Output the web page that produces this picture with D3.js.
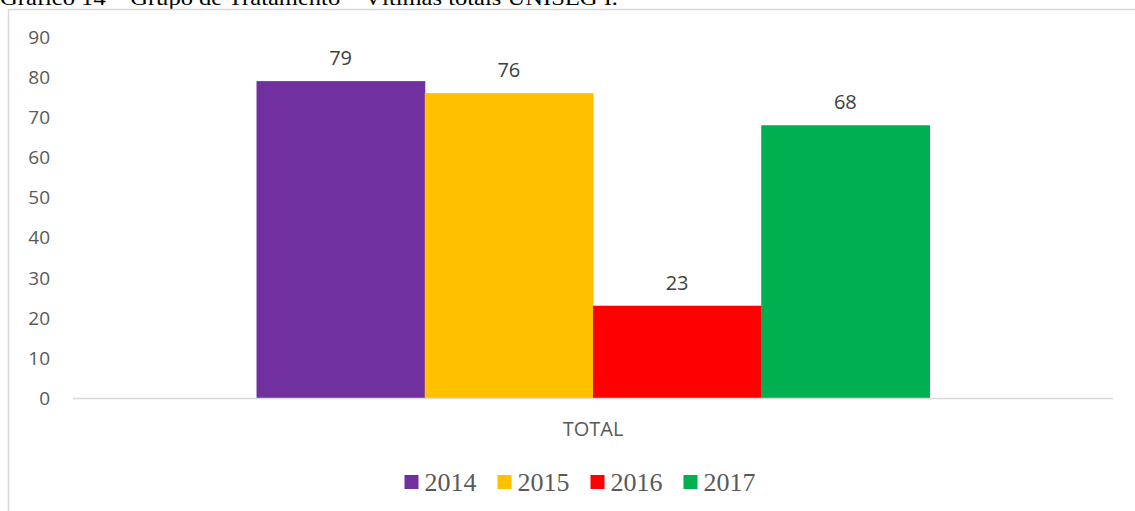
<!DOCTYPE html>
<html>
<head>
<meta charset="utf-8">
<script src="https://cdn.jsdelivr.net/npm/d3@7"></script>
<style>
  body { margin: 0; background: #fff; }
  svg { display: block; }
</style>
</head>
<body>
<svg id="chart"></svg>
<script>
// data
const categories = ['TOTAL'];
const years = ['2014', '2015', '2016', '2017'];
const values = [79, 76, 23, 68];
const yTicks = [0, 10, 20, 30, 40, 50, 60, 70, 80, 90];
const colors = ['#7030A0', '#FFC000', '#FF0000', '#00B050'];
const title = 'Gráfico 14 – Grupo de Tratamento – Vítimas totais UNISEG I.';

const W = 1135, H = 511;
const plot = {left: 73, right: 1113, top: 37, bottom: 398};

const svg = d3.select('#chart')
  .attr('width', W)
  .attr('height', H);

// caption, cut off at the top as in the source page
svg.append('text')
  .attr('x', 0)
  .attr('y', 4.5)
  .attr('textLength', 618)
  .attr('lengthAdjust', 'spacingAndGlyphs')
  .style('font-family', '"Liberation Serif", "Times New Roman", serif')
  .style('font-size', '21px')
  .style('fill', '#000')
  .text(title);

// chart frame (left and top edges visible)
svg.append('path')
  .attr('d', `M8.5,${H} L8.5,9.5 L${W},9.5`)
  .attr('fill', 'none')
  .attr('stroke', '#d9d9d9')
  .attr('stroke-width', 1.5);

const y = d3.scaleLinear()
  .domain([0, 90])
  .range([plot.bottom, plot.top]);

const x0 = d3.scaleBand()
  .domain(categories)
  .range([plot.left, plot.right])
  .paddingInner(0)
  .paddingOuter(0.2727);

const x1 = d3.scaleBand()
  .domain(years)
  .range([0, x0.bandwidth()])
  .padding(0);

const color = d3.scaleOrdinal()
  .domain(years)
  .range(colors);

// y tick labels
svg.append('g')
  .selectAll('text')
  .data(yTicks)
  .join('text')
  .attr('x', 50)
  .attr('y', d => y(d))
  .attr('dy', '0.36em')
  .attr('text-anchor', 'end')
  .style('font-family', '"Open Sans", sans-serif')
  .style('font-size', '19px')
  .style('fill', '#595959')
  .text(d => d);

// bars
const rows = years.map((yr, i) => ({year: yr, value: values[i], cat: categories[0]}));

const g = svg.append('g');

g.selectAll('rect')
  .data(rows)
  .join('rect')
  .attr('x', d => x0(d.cat) + x1(d.year))
  .attr('y', d => y(d.value))
  .attr('width', x1.bandwidth() + 0.5)
  .attr('height', d => y(0) - y(d.value))
  .attr('fill', d => color(d.year));

// baseline
svg.append('line')
  .attr('x1', plot.left)
  .attr('x2', plot.right)
  .attr('y1', y(0) + 0.5)
  .attr('y2', y(0) + 0.5)
  .attr('stroke', '#d9d9d9')
  .attr('stroke-width', 1.5);

// value labels
g.selectAll('text.val')
  .data(rows)
  .join('text')
  .attr('class', 'val')
  .attr('x', d => x0(d.cat) + x1(d.year) + x1.bandwidth() / 2)
  .attr('y', d => y(d.value) - 16)
  .attr('text-anchor', 'middle')
  .style('font-family', '"Open Sans", sans-serif')
  .style('font-size', '20px')
  .style('fill', '#404040')
  .text(d => d.value);

// category label
svg.append('g')
  .selectAll('text')
  .data(categories)
  .join('text')
  .attr('x', d => x0(d) + x0.bandwidth() / 2)
  .attr('y', 436)
  .attr('text-anchor', 'middle')
  .style('font-family', '"Open Sans", sans-serif')
  .style('font-size', '20px')
  .style('fill', '#595959')
  .text(d => d);

// legend
const legend = svg.append('g');
const items = legend.selectAll('g')
  .data(years)
  .join('g');

items.append('rect')
  .attr('width', 14)
  .attr('height', 14)
  .attr('y', 475)
  .attr('fill', d => color(d));

items.append('text')
  .attr('x', 20)
  .attr('y', 491)
  .style('font-family', '"Liberation Serif", "Times New Roman", serif')
  .style('font-size', '26px')
  .style('fill', '#595959')
  .text(d => d);

const widths = [];
items.each(function() {
  const w = d3.select(this).select('text').node().getComputedTextLength();
  widths.push(20 + w);
});
const gap = 21;
const total = d3.sum(widths) + gap * (widths.length - 1);
let cx = 580 - total / 2;
items.attr('transform', (d, i) => {
  const t = `translate(${cx},0)`;
  cx += widths[i] + gap;
  return t;
});
</script>
</body>
</html>
